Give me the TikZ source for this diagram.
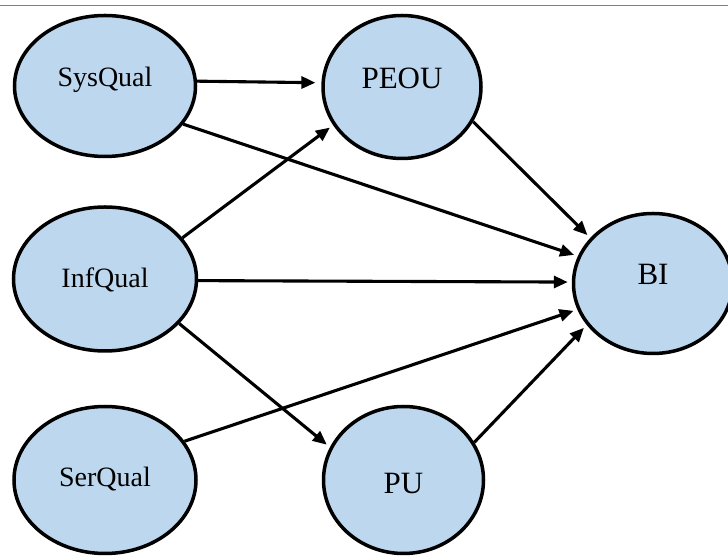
\documentclass[tikz,border=0pt]{standalone}
\usepackage{fontspec}
\setmainfont{Liberation Serif}
\usetikzlibrary{shapes.geometric,arrows.meta}
\definecolor{ovalfill}{HTML}{BDD7EE}
\definecolor{rulegray}{HTML}{7F7F7F}
\tikzset{
  oval/.style={ellipse, draw=black, line width=3.5pt, fill=ovalfill, inner sep=0pt},
  arr/.style={line width=3.1pt, -{Triangle[length=14pt,width=12pt]}, shorten >=4pt},
  lblA/.style={font=\fontsize{28}{30}\selectfont, anchor=base},
  lblB/.style={font=\fontsize{31}{33}\selectfont, anchor=base}
}
\begin{document}
\begin{tikzpicture}[x=1pt,y=1pt]
\useasboundingbox (0,0) rectangle (728,556);
\draw[rulegray, line width=1.8pt] (0,550.5) -- (728,550.5);
\node[oval, minimum width=181pt, minimum height=141pt,
      label={[lblA, yshift=6pt]center:SysQual}] (sys) at (105,470) {};
\node[oval, minimum width=158pt, minimum height=143pt,
      label={[lblB, yshift=9pt]center:PEOU}] (peou) at (402,469) {};
\node[oval, minimum width=183pt, minimum height=144pt,
      label={[lblA, yshift=-0.5pt]center:InfQual}] (inf) at (105,277) {};
\node[oval, minimum width=159pt, minimum height=140pt,
      label={[lblB, yshift=9.5pt]center:BI}] (bi) at (653,272.5) {};
\node[oval, minimum width=182pt, minimum height=147pt,
      label={[lblA, yshift=1pt]center:SerQual}] (ser) at (105,76) {};
\node[oval, minimum width=160pt, minimum height=147pt,
      label={[lblB, yshift=-4pt]center:PU}] (pu) at (403.5,76) {};
\draw[arr, shorten >=6pt] (sys.3) -- (peou.177);
\draw[arr] (sys.-26) -- (bi.160);
\draw[arr] (inf.28) -- (peou.209);
\draw[arr] (inf.-1.8) -- (bi.179);
\draw[arr] (inf.-31) -- (pu.156.5);
\draw[arr] (ser.26) -- (bi.199);
\draw[arr] (peou.-26.6) -- (bi.144);
\draw[arr] (pu.28) -- (bi.212);
\end{tikzpicture}
\end{document}
